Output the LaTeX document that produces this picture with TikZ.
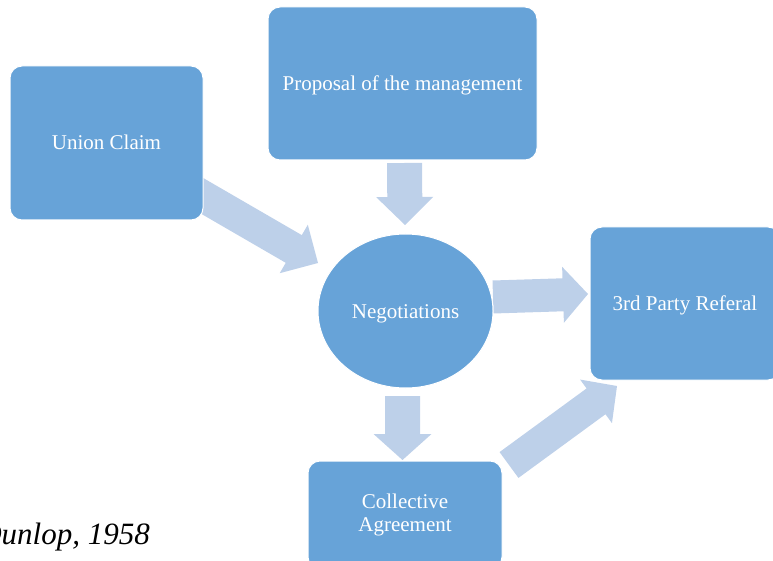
\documentclass[tikz,border=0pt]{standalone}
\usepackage{fontspec}
\setmainfont{Liberation Serif}
\usetikzlibrary{calc,shapes.geometric}
\definecolor{boxblue}{RGB}{103,163,216}
\definecolor{arrowblue}{RGB}{189,208,233}
\newcommand\blockarrow[5]{%
  \coordinate (hb) at ($(#2)!#5!(#1)$);
  \fill[arrowblue] ($(#1)!#3!-90:(#2)$) -- ($(hb)!#3!-90:(#2)$) -- ($(hb)!#4!-90:(#2)$) -- (#2)
    -- ($(hb)!#4!90:(#2)$) -- ($(hb)!#3!90:(#2)$) -- ($(#1)!#3!90:(#2)$) -- cycle;}
\begin{document}
\begin{tikzpicture}[x=1pt,y=-1pt,
  box/.style={draw=white,line width=1pt,fill=boxblue,rounded corners=12pt,text=white,
    font=\fontsize{21}{23}\selectfont,align=center,inner sep=0pt},
  oval/.style={draw=white,line width=1pt,fill=boxblue,ellipse,text=white,
    font=\fontsize{21}{23}\selectfont,inner sep=0pt}]
\useasboundingbox (0,0) rectangle (773,561);
% arrow end points
\coordinate (a1s) at (192,190); \coordinate (a1e) at (318,263);
\coordinate (a2s) at (404.5,163); \coordinate (a2e) at (405,225);
\coordinate (a3s) at (493,297); \coordinate (a3e) at (588,294);
\coordinate (a4s) at (402.5,396); \coordinate (a4e) at (402.5,460);
\coordinate (a5s) at (509,465); \coordinate (a5e) at (617,386);
\blockarrow{a1s}{a1e}{16pt}{28pt}{28pt}
\blockarrow{a2s}{a2e}{17.5pt}{28.5pt}{28pt}
\blockarrow{a3s}{a3e}{16.5pt}{28pt}{25pt}
\blockarrow{a4s}{a4e}{17.5pt}{29pt}{26pt}
\blockarrow{a5s}{a5e}{16pt}{27pt}{26pt}
% nodes
\node[box,minimum width=193pt,minimum height=154pt,text height=14pt,text depth=0pt] (union) at (106.5,143) {Union Claim};
\node[box,minimum width=269pt,minimum height=153pt,text height=14pt,text depth=0pt] (proposal) at (402.5,83.5) {Proposal of the management};
\node[oval,minimum width=175pt,minimum height=154pt,text height=14pt,text depth=0pt] (neg) at (405.5,311) {Negotiations};
\node[box,minimum width=190pt,minimum height=153pt,text height=14pt,text depth=0pt] (third) at (685,303.5) {3rd Party Referal};
\node[box,minimum width=194pt,minimum height=108pt] (coll) at (405,515) {Collective\\Agreement};
\node[anchor=base east,font=\fontsize{31}{34}\selectfont\itshape,inner sep=0pt] (src) at (150,544) {Dunlop, 1958};
\end{tikzpicture}
\end{document}
